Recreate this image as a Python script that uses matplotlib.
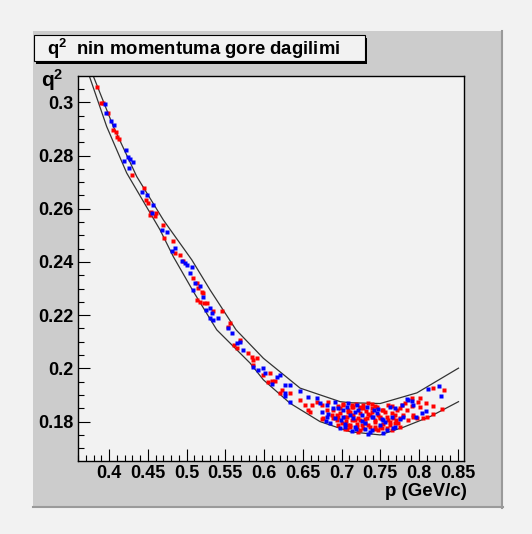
import matplotlib
matplotlib.use('Agg')
import matplotlib.pyplot as plt
from matplotlib.patches import Rectangle
from matplotlib.ticker import MultipleLocator, FormatStrFormatter

# boundary curves of the allowed band
lower_p = [0.3746, 0.3970, 0.4229, 0.4658, 0.4830, 0.5088, 0.5390, 0.5820, 0.5992,
           0.6336, 0.6723, 0.7111, 0.7498, 0.7799, 0.8143, 0.8509]
lower_q = [0.3099, 0.2909, 0.2734, 0.2521, 0.2420, 0.2289, 0.2145, 0.2020, 0.1957,
           0.1869, 0.1800, 0.1762, 0.1750, 0.1779, 0.1819, 0.1875]
upper_p = [0.3797, 0.4056, 0.4358, 0.4701, 0.5068, 0.5304, 0.5639, 0.5992, 0.6465,
           0.6982, 0.7111, 0.7498, 0.7972, 0.8509]
upper_q = [0.3099, 0.2909, 0.2721, 0.2558, 0.2408, 0.2295, 0.2145, 0.2038, 0.1926,
           0.1875, 0.1871, 0.1868, 0.1908, 0.2001]

# red events
red_p = [0.3849, 0.3893, 0.3919, 0.3991, 0.4056, 0.4090, 0.4107, 0.4133, 0.4293, 0.4452,
         0.4478, 0.4507, 0.4538, 0.4607, 0.4529, 0.4594, 0.4693, 0.4710, 0.4822, 0.4852,
         0.4917, 0.4959, 0.5088, 0.5132, 0.5153, 0.5197, 0.5217, 0.5132, 0.5175, 0.5226,
         0.5261, 0.5346, 0.5455, 0.5540, 0.5562, 0.5613, 0.5648, 0.5691, 0.5798, 0.5842,
         0.5863, 0.5907, 0.5863, 0.5992, 0.6078, 0.6100, 0.6143, 0.6056, 0.6229, 0.6207,
         0.6336, 0.6465, 0.6530, 0.6616, 0.6573, 0.6681, 0.6745, 0.6766, 0.6594, 0.6749,
         0.6831, 0.6960, 0.7024, 0.7133, 0.7240, 0.7282, 0.7391, 0.7433, 0.7520, 0.6875,
         0.6982, 0.7089, 0.7153, 0.7218, 0.7304, 0.7347, 0.7433, 0.7476, 0.6939, 0.6960,
         0.7111, 0.7197, 0.7262, 0.7347, 0.7433, 0.7498, 0.7218, 0.7046, 0.6895, 0.7068,
         0.7133, 0.7089, 0.7605, 0.7649, 0.7778, 0.7821, 0.7907, 0.7992, 0.8014, 0.7928,
         0.7799, 0.7670, 0.7584, 0.7627, 0.7734, 0.7520, 0.7649, 0.7756, 0.7863, 0.8186,
         0.8328, 0.8014, 0.7907, 0.8092, 0.8178, 0.8294, 0.7928, 0.7972, 0.8049, 0.8186,
         0.8101, 0.7024, 0.7089, 0.7153, 0.7240, 0.7282, 0.7326, 0.7391, 0.7433, 0.7498,
         0.7541, 0.7605, 0.7649, 0.7692, 0.7133, 0.7197, 0.7282, 0.7369, 0.7476, 0.7584,
         0.6939, 0.7004, 0.7068, 0.7240, 0.7347, 0.7455, 0.7714, 0.7756,
         0.6982, 0.7046, 0.7111, 0.7175, 0.7240, 0.7304, 0.7369, 0.7433, 0.7498, 0.7562,
         0.7627, 0.7692, 0.7756, 0.7240, 0.7111, 0.6891, 0.6956, 0.7188, 0.7395, 0.7537,
         0.7704, 0.7846, 0.7317, 0.7059, 0.6814]
red_q = [0.3057, 0.2997, 0.2999, 0.2959, 0.2897, 0.2890, 0.2869, 0.2864, 0.2727, 0.2677,
         0.2633, 0.2623, 0.2586, 0.2583, 0.2577, 0.2571, 0.2539, 0.2489, 0.2477, 0.2433,
         0.2427, 0.2402, 0.2339, 0.2320, 0.2302, 0.2289, 0.2283, 0.2258, 0.2251, 0.2246,
         0.2245, 0.2214, 0.2214, 0.2157, 0.2170, 0.2088, 0.2076, 0.2107, 0.2057, 0.2044,
         0.2032, 0.2038, 0.2013, 0.1976, 0.1982, 0.1954, 0.1953, 0.1950, 0.1919, 0.1908,
         0.1907, 0.1882, 0.1863, 0.1863, 0.1844, 0.1875, 0.1863, 0.1813, 0.1838, 0.1810,
         0.1874, 0.1859, 0.1868, 0.1862, 0.1855, 0.1864, 0.1852, 0.1859, 0.1843, 0.1824,
         0.1834, 0.1836, 0.1824, 0.1814, 0.1811, 0.1830, 0.1805, 0.1824, 0.1805, 0.1786,
         0.1786, 0.1792, 0.1786, 0.1786, 0.1774, 0.1780, 0.1761, 0.1771, 0.1813, 0.1819,
         0.1856, 0.1788, 0.1863, 0.1859, 0.1863, 0.1869, 0.1888, 0.1875, 0.1856, 0.1825,
         0.1825, 0.1813, 0.1819, 0.1788, 0.1794, 0.1775, 0.1769, 0.1778, 0.1806, 0.1928,
         0.1917, 0.1888, 0.1860, 0.1871, 0.1860, 0.1846, 0.1819, 0.1815, 0.1813, 0.1829,
         0.1818, 0.1863, 0.1844, 0.1856, 0.1832, 0.1850, 0.1813, 0.1838, 0.1800, 0.1819,
         0.1844, 0.1806, 0.1832, 0.1794, 0.1806, 0.1781, 0.1775, 0.1781, 0.1769, 0.1775,
         0.1825, 0.1794, 0.1774, 0.1806, 0.1869, 0.1856, 0.1844, 0.1813,
         0.1850, 0.1819, 0.1838, 0.1806, 0.1850, 0.1794, 0.1825, 0.1781, 0.1813, 0.1838,
         0.1800, 0.1825, 0.1850, 0.1769, 0.1781, 0.1844, 0.1818, 0.1867, 0.1867, 0.1791,
         0.1806, 0.1844, 0.1840, 0.1803, 0.1844]

# blue events
blue_p = [0.3948, 0.3961, 0.4022, 0.4065, 0.4220, 0.4241, 0.4271, 0.4306, 0.4194, 0.4262,
          0.4422, 0.4494, 0.4572, 0.4551, 0.4680, 0.4745, 0.4813, 0.4852, 0.4938, 0.4981,
          0.5003, 0.5046, 0.5068, 0.5110, 0.5088, 0.5175, 0.5217, 0.5252, 0.5304, 0.5326,
          0.5304, 0.5346, 0.5411, 0.5540, 0.5584, 0.5648, 0.5691, 0.5734, 0.5863, 0.5927,
          0.5992, 0.6014, 0.6165, 0.6207, 0.6104, 0.6272, 0.6336, 0.6272, 0.6272, 0.6336,
          0.6465, 0.6573, 0.6681, 0.6723, 0.6810, 0.6745, 0.6810, 0.6801, 0.6917, 0.6895,
          0.7068, 0.7197, 0.7326, 0.7476, 0.6831, 0.7024, 0.7175, 0.7262, 0.7391, 0.7520,
          0.6853, 0.7046, 0.7175, 0.7304, 0.7391, 0.7133, 0.7347, 0.7024, 0.7153, 0.6982,
          0.7692, 0.7863, 0.7928, 0.8036, 0.7756, 0.7541, 0.7692, 0.7584, 0.7541, 0.8121,
          0.8263, 0.8281, 0.7907, 0.8092, 0.6960, 0.7111, 0.7218, 0.7304, 0.7411, 0.7498,
          0.7627, 0.7046, 0.7369, 0.7562, 0.7670, 0.7850, 0.7963, 0.7799, 0.7778,
          0.7085, 0.7266, 0.7459, 0.6995, 0.7653, 0.7188, 0.7420, 0.6917]
blue_q = [0.2994, 0.2959, 0.2930, 0.2915, 0.2819, 0.2796, 0.2786, 0.2775, 0.2780, 0.2753,
          0.2662, 0.2652, 0.2615, 0.2583, 0.2521, 0.2514, 0.2442, 0.2452, 0.2402, 0.2395,
          0.2389, 0.2358, 0.2383, 0.2320, 0.2295, 0.2308, 0.2270, 0.2220, 0.2226, 0.2208,
          0.2189, 0.2182, 0.2189, 0.2151, 0.2132, 0.2095, 0.2101, 0.2070, 0.2007, 0.1994,
          0.2001, 0.1982, 0.1969, 0.1976, 0.1942, 0.1938, 0.1938, 0.1907, 0.1897, 0.1875,
          0.1915, 0.1894, 0.1888, 0.1869, 0.1863, 0.1838, 0.1819, 0.1803, 0.1874, 0.1852,
          0.1855, 0.1862, 0.1855, 0.1849, 0.1830, 0.1818, 0.1836, 0.1824, 0.1818, 0.1811,
          0.1793, 0.1792, 0.1780, 0.1774, 0.1768, 0.1764, 0.1755, 0.1844, 0.1813, 0.1775,
          0.1850, 0.1882, 0.1863, 0.1832, 0.1809, 0.1806, 0.1781, 0.1769, 0.1756, 0.1922,
          0.1934, 0.1895, 0.1879, 0.1841, 0.1850, 0.1825, 0.1844, 0.1794, 0.1819, 0.1788,
          0.1856, 0.1781, 0.1762, 0.1800, 0.1775, 0.1884, 0.1817, 0.1817, 0.1863,
          0.1870, 0.1803, 0.1833, 0.1806, 0.1818, 0.1773, 0.1844, 0.1814]

x_range = (0.36, 0.858)
y_range = (0.1652, 0.3099)

W, H = 532, 534
BG = '#f2f2f2'
PAD = '#cccccc'

plt.rcParams['font.family'] = ['Liberation Sans', 'DejaVu Sans']
plt.rcParams['font.weight'] = 'bold'
plt.rcParams['mathtext.fontset'] = 'custom'
plt.rcParams['mathtext.rm'] = 'Liberation Sans:bold'
plt.rcParams['mathtext.it'] = 'Liberation Sans:bold'
plt.rcParams['mathtext.bf'] = 'Liberation Sans:bold'


def fig_box(x0, y0, x1, y1):
    # pixel box (top-left origin) -> figure fraction [left, bottom, width, height]
    return [x0 / W, 1 - y1 / H, (x1 - x0) / W, (y1 - y0) / H]


fig = plt.figure(figsize=(W / 100, H / 100), dpi=100, facecolor=BG)

# grey canvas pad with darker right/bottom border
l, b, w, h = fig_box(33, 31, 503, 508)
fig.patches.append(Rectangle((l, b), w, h, transform=fig.transFigure,
                             facecolor=PAD, edgecolor='none', zorder=0))
fig.add_artist(plt.Line2D([(503 - 1) / W] * 2, [1 - 31 / H, 1 - 508 / H],
                          color='#9a9a9a', lw=1.5, transform=fig.transFigure, zorder=1))
fig.add_artist(plt.Line2D([33 / W, 503 / W], [1 - 507 / H] * 2,
                          color='#9a9a9a', lw=1.5, transform=fig.transFigure, zorder=1))

# title box with shadow
l, b, w, h = fig_box(36, 38, 367, 64)
fig.patches.append(Rectangle((l, b), w, h, transform=fig.transFigure,
                             facecolor='black', edgecolor='none', zorder=1))
l, b, w, h = fig_box(33.5, 35, 364.5, 61)
fig.patches.append(Rectangle((l, b), w, h, transform=fig.transFigure,
                             facecolor=BG, edgecolor='black', lw=0.8, zorder=2))
fig.text(47 / W, 1 - 49 / H, r'q$^{2}$  nin momentuma gore dagilimi', fontsize=13.3,
         fontweight='bold', ha='left', va='center', zorder=3)

ax = fig.add_axes(fig_box(78, 76, 464, 461))
ax.set_zorder(5)
ax.set_facecolor(BG)

ax.plot(lower_p, lower_q, '-', color='#333333', lw=0.9)
ax.plot(upper_p, upper_q, '-', color='#333333', lw=0.9)
ax.plot(red_p, red_q, 's', color='#ff0000', ms=2.6, mec='none')
ax.plot(blue_p, blue_q, 's', color='#0000ff', ms=2.6, mec='none')

ax.set_xlim(*x_range)
ax.set_ylim(*y_range)

ax.xaxis.set_major_locator(MultipleLocator(0.05))
ax.xaxis.set_minor_locator(MultipleLocator(0.01))
ax.yaxis.set_major_locator(MultipleLocator(0.02))
ax.yaxis.set_minor_locator(MultipleLocator(0.005))
ax.xaxis.set_major_formatter(FormatStrFormatter('%g'))
ax.yaxis.set_major_formatter(FormatStrFormatter('%g'))

ax.tick_params(which='both', direction='in', top=False, right=False, width=0.8,
               labelsize=13, color='black')
ax.tick_params(which='major', length=8.6)
ax.tick_params(which='minor', length=4.3)
ax.tick_params(axis='y', pad=3)
ax.tick_params(axis='x', pad=3)
for s in ax.spines.values():
    s.set_linewidth(1.0)
    s.set_color('black')

fig.text(467 / W, 1 - 492 / H, 'p (GeV/c)', fontsize=13.5, fontweight='bold',
         ha='right', va='center')
fig.text(63 / W, 1 - 67 / H, r'q$^{2}$', fontsize=15, fontweight='bold',
         ha='right', va='top')

fig.savefig('out.png', dpi=100, facecolor=BG)
